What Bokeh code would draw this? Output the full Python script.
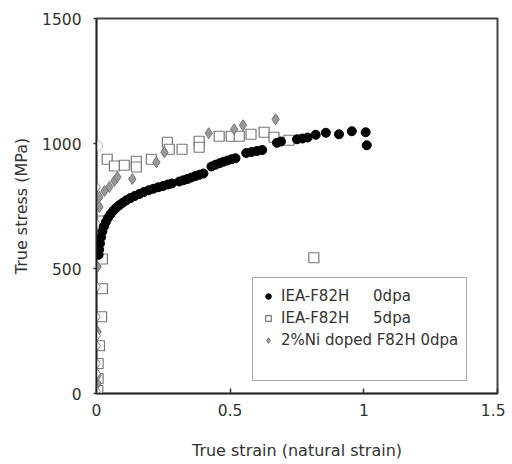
from bokeh.plotting import figure
from bokeh.models import Range1d, Legend, LegendItem, FixedTicker
from bokeh.embed import file_html
from bokeh.resources import INLINE

# IEA-F82H 0dpa (filled circles)
f82h_0_strain = [0.008, 0.010, 0.013, 0.017, 0.022, 0.028, 0.035, 0.043, 0.052, 0.062,
                 0.073, 0.085, 0.098, 0.112, 0.127, 0.143, 0.160, 0.177, 0.195, 0.213,
                 0.231, 0.249, 0.267, 0.282,
                 0.310, 0.325, 0.340, 0.355, 0.370, 0.385, 0.400,
                 0.430, 0.445, 0.460, 0.475, 0.490, 0.505, 0.520,
                 0.560, 0.580, 0.600, 0.620, 0.675, 0.690, 0.750, 0.770, 0.790,
                 0.820, 0.858, 0.907, 0.955, 1.007, 1.011]
f82h_0_stress = [555, 575, 600, 625, 648, 668, 686, 702, 717, 730,
                 742, 753, 763, 773, 782, 790, 798, 806, 813, 819,
                 825, 830, 836, 840,
                 848, 853, 858, 864, 870, 875, 880,
                 908, 915, 921, 927, 932, 937, 941,
                 962, 966, 970, 974, 1003, 1008, 1017, 1020, 1024,
                 1035, 1043, 1037, 1049, 1045, 993]

# IEA-F82H 5dpa (open squares)
f82h_5_strain = [0.005, 0.006, 0.006, 0.011, 0.019, 0.022, 0.022, 0.022,
                 0.040, 0.067, 0.104, 0.149, 0.149, 0.205, 0.265, 0.272, 0.320,
                 0.384, 0.384, 0.459, 0.504, 0.534, 0.578, 0.627, 0.664, 0.720,
                 0.813]
f82h_5_stress = [12, 60, 120, 191, 307, 419, 538, 690,
                 937, 910, 913, 929, 906, 937, 1005, 977, 977,
                 1009, 985, 1029, 1029, 1029, 1037, 1045, 1025, 1013,
                 543]

# 2%Ni doped F82H 0dpa (grey diamonds)
ni_strain = [0.004, 0.004, 0.004, 0.004, 0.011, 0.011, 0.030, 0.048, 0.067, 0.078,
             0.134, 0.224, 0.254, 0.420, 0.515, 0.548, 0.670]
ni_stress = [40, 72, 247, 507, 746, 786, 810, 826, 850, 866,
             858, 925, 965, 1041, 1057, 1073, 1097]

# unlabeled white markers on the stress axis
white_strain = [0.002, 0.002, 0.002, 0.002, 0.002, 0.002, 0.002, 0.002, 0.002, 0.002]
white_stress = [8, 80, 120, 191, 231, 307, 427, 550, 678, 826]
white_circle_strain = [0.004]
white_circle_stress = [990]

x_ticks = [0, 0.5, 1, 1.5]
y_ticks = [0, 500, 1000, 1500]

FONT = "DejaVu Sans"

p = figure(width=505, height=462, output_backend="svg", toolbar_location=None,
           x_range=Range1d(0, 1.5), y_range=Range1d(0, 1500),
           min_border_left=96, min_border_right=8, min_border_top=18, min_border_bottom=68)
p.xgrid.visible = False
p.ygrid.visible = False
p.outline_line_color = "#444444"
p.outline_line_width = 2
p.background_fill_color = "white"

for ax in (p.xaxis[0], p.yaxis[0]):
    ax.axis_line_color = "#222222"
    ax.axis_line_width = 1.5
    ax.major_tick_line_color = "#333333"
    ax.major_tick_line_width = 1.5
    ax.minor_tick_line_color = None
    ax.major_label_text_font = FONT
    ax.major_label_text_font_size = "15.5px"
    ax.major_label_text_color = "#333333"
    ax.axis_label_text_font = FONT
    ax.axis_label_text_font_size = "16px"
    ax.axis_label_text_font_style = "normal"
    ax.axis_label_text_color = "#333333"

p.xaxis.ticker = FixedTicker(ticks=x_ticks)
p.yaxis.ticker = FixedTicker(ticks=y_ticks)
p.xaxis.major_label_overrides = {0: "0", 0.5: "0.5", 1: "1", 1.5: "1.5"}
p.xaxis.major_tick_in = 5
p.xaxis.major_tick_out = 0
p.xaxis.major_label_standoff = 10
p.xaxis.axis_label = "True strain (natural strain)"
p.xaxis.axis_label_standoff = 22
p.yaxis.major_tick_in = 0
p.yaxis.major_tick_out = 3
p.yaxis.major_label_standoff = 12
p.yaxis.axis_label = "True stress (MPa)"
p.yaxis.axis_label_standoff = 8

r_sq = p.scatter(f82h_5_strain, f82h_5_stress, marker="square", size=10,
                 fill_color="white", line_color="#777777", line_width=1.2)
r_ni = p.scatter(ni_strain, ni_stress, marker="diamond", size=11,
                 fill_color="#999999", line_color="#777777", line_width=1)
w1 = p.scatter(white_strain, white_stress, marker="diamond", size=10,
               fill_color="white", line_color="#888888", line_width=1)
w2 = p.scatter(white_circle_strain, white_circle_stress, marker="circle", size=10,
               fill_color="white", line_color="#bbbbbb", line_width=1)
r_c = p.scatter(f82h_0_strain, f82h_0_stress, marker="circle", size=9,
                fill_color="black", line_color="black")
r_blank = p.scatter([], [], marker="circle", size=1, fill_alpha=0, line_alpha=0)

nb = "\u00a0"
legend = Legend(items=[
    LegendItem(label="IEA-F82H" + nb * 5 + "0dpa", renderers=[r_c]),
    LegendItem(label="IEA-F82H" + nb * 5 + "5dpa", renderers=[r_sq]),
    LegendItem(label="2%Ni doped F82H 0dpa", renderers=[r_ni]),
    LegendItem(label=nb, renderers=[r_blank]),
], location=(156, 12))
legend.label_text_font = FONT
legend.label_text_font_size = "15px"
legend.label_text_color = "#333333"
legend.label_height = 20
legend.glyph_height = 14
legend.glyph_width = 14
legend.label_standoff = 6
legend.spacing = 2
legend.padding = 8
legend.margin = 0
legend.border_line_color = "#555555"
legend.border_line_width = 1.5
legend.background_fill_alpha = 1
p.add_layout(legend, "center")

open("out.html", "w").write(file_html(p, INLINE))
